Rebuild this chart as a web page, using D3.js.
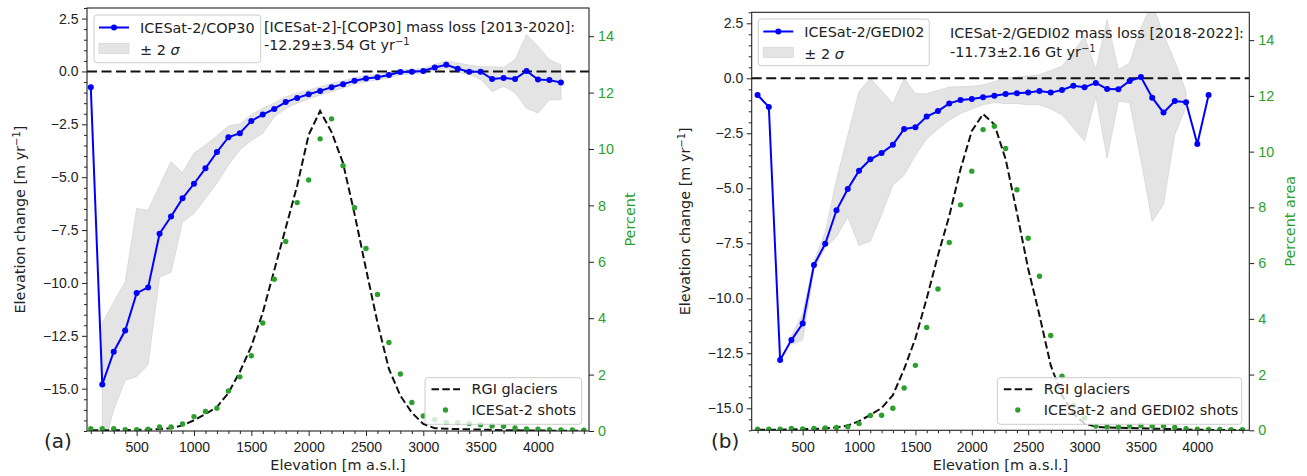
<!DOCTYPE html>
<html>
<head>
<meta charset="utf-8">
<title>ICESat-2 elevation change</title>
<script src="https://cdn.jsdelivr.net/npm/d3@7"></script>
<style>
  body { margin: 0; background: #fff; }
  svg { display: block; font-family: "DejaVu Sans", sans-serif; }
  .tick text { font-size: 14px; fill: #222; }
  .tick line { stroke: #222; }
</style>
</head>
<body>
<svg id="chart" width="1307" height="476"></svg>
<script>
// elevation bins (m a.s.l.)
var elevBins = [100, 200, 300, 400, 500, 600, 700, 800, 900, 1000, 1100, 1200, 1300, 1400, 1500,
  1600, 1700, 1800, 1900, 2000, 2100, 2200, 2300, 2400, 2500, 2600, 2700, 2800, 2900, 3000,
  3100, 3200, 3300, 3400, 3500, 3600, 3700, 3800, 3900, 4000, 4100, 4200, 4300, 4400];

// tick labels
var xTicks = [500, 1000, 1500, 2000, 2500, 3000, 3500, 4000];
var yTicks = [2.5, 0, -2.5, -5, -7.5, -10, -12.5, -15];
var pctTicks = [0, 2, 4, 6, 8, 10, 12, 14];

// (a) ICESat-2 / COP30, bins 100..4200
var dhA = [-0.75, -14.8, -13.25, -12.25, -10.48, -10.21, -7.67, -6.86, -6.0, -5.31,
  -4.58, -3.81, -3.11, -2.92, -2.34, -2.04, -1.77, -1.45, -1.25, -1.08,
  -0.92, -0.75, -0.6, -0.44, -0.33, -0.27, -0.17, -0.03, -0.01, 0.02,
  0.19, 0.32, 0.13, -0.01, -0.01, -0.36, -0.31, -0.36, 0.02, -0.38, -0.41, -0.52];
// +-2 sigma band, bins 200..4200
var bandElevA = [200, 300, 400, 500, 600, 700, 800, 900, 1000, 1100, 1200, 1300, 1400, 1500,
  1600, 1700, 1800, 1900, 2000, 2100, 2200, 2300, 2400, 2500, 2600, 2700, 2800, 2900, 3000,
  3100, 3200, 3300, 3400, 3500, 3600, 3700, 3800, 3900, 4000, 4100, 4200];
var bandHiA = [-11.9, -10.9, -9.96, -6.48, -6.56, -5.4, -4.27, -4.79, -3.87,
  -3.48, -3.05, -2.58, -2.48, -2.05, -1.74, -1.5, -1.2, -1.02, -0.88,
  -0.72, -0.57, -0.44, -0.3, -0.2, -0.13, -0.04, 0.08, 0.1, 0.13,
  0.33, 0.5, 0.4, 0.3, 0.22, 0.22, 0.2, 0.55, 1.74, 1.19, 0.55, 0.32];
var bandLoA = [-18, -16.0, -14.6, -14.43, -13.85, -9.72, -9.49, -7.12, -6.72,
  -6.0, -5.29, -4.43, -3.71, -3.27, -2.92, -2.15, -1.75, -1.5, -1.3,
  -1.12, -0.95, -0.78, -0.6, -0.47, -0.4, -0.3, -0.15, -0.12, -0.1,
  0.05, 0.15, -0.05, -0.12, -0.37, -0.95, -0.7, -1.0, -1.74, -1.97, -1.34, -1.34];
// percent per bin, bins 100..4400
var rgiA = [0.03, 0.03, 0.03, 0.03, 0.04, 0.05, 0.07, 0.1, 0.2, 0.38,
  0.6, 0.85, 1.35, 2.1, 3.0, 4.2, 5.7, 7.2, 8.7, 10.5,
  11.35, 10.6, 9.5, 7.7, 5.75, 3.85, 2.2, 1.25, 0.65, 0.25,
  0.1, 0.08, 0.07, 0.06, 0.05, 0.04, 0.03, 0.03, 0.02, 0.02, 0.01, 0.01, 0.01, 0.01];
var shotsA = [0.08, 0.08, 0.08, 0.05, 0.05, 0.06, 0.14, 0.14, 0.25, 0.51,
  0.69, 0.81, 1.42, 1.92, 2.67, 3.83, 5.38, 6.72, 8.1, 8.9,
  10.36, 11.07, 9.41, 7.92, 6.47, 4.84, 3.14, 2.02, 1.01, 0.53,
  0.4, 0.3, 0.3, 0.27, 0.22, 0.18, 0.17, 0.11, 0.07, 0.06, 0.05, 0.04, 0.04, 0.03];

// (b) ICESat-2 / GEDI02, bins 100..4100
var dhB = [-0.76, -1.3, -12.8, -11.9, -11.15, -8.49, -7.52, -6.0, -5.03, -4.2,
  -3.68, -3.4, -3.02, -2.3, -2.23, -1.74, -1.49, -1.14, -0.99, -0.94,
  -0.86, -0.79, -0.71, -0.68, -0.65, -0.58, -0.65, -0.53, -0.34, -0.41,
  -0.21, -0.49, -0.5, -0.12, 0.06, -0.88, -1.56, -1.03, -1.09, -2.99, -0.76];
// +-2 sigma band, bins 400..3900
var bandElevB = [400, 500, 600, 700, 800, 900, 1000, 1100, 1200, 1300, 1400, 1500,
  1600, 1700, 1800, 1900, 2000, 2100, 2200, 2300, 2400, 2500, 2600, 2700, 2800, 2900, 3000,
  3100, 3200, 3300, 3400, 3500, 3600, 3700, 3800, 3900];
var bandHiB = [-11.7, -10.7, -8.3, -7.0, -4.6, -2.6, -0.6,
  0.0, -0.57, -1.15, 0.0, -0.7, -0.7, -0.55, -0.4, -0.38, -0.36,
  -0.3, -0.15, 0.0, 0.05, 0.1, 0.16, 0.35, 0.55, 1.2, 1.9,
  0.39, 2.66, 0.39, 0.7, 2.3, 3.4, 1.98, 0.77, -0.6];
var bandLoB = [-12.1, -11.9, -8.7, -7.7, -7.2, -6.3, -7.6,
  -7.4, -6.2, -4.85, -4.4, -3.5, -2.75, -2.3, -1.9, -1.6, -1.4,
  -1.2, -1.1, -1.15, -1.15, -1.2, -1.2, -1.4, -1.65, -2.25, -2.86,
  -0.82, -3.62, -1.05, -1.1, -3.7, -6.5, -5.74, -2.56, -1.3];
var rgiB = [0.02, 0.02, 0.02, 0.03, 0.04, 0.05, 0.07, 0.1, 0.17, 0.33,
  0.55, 0.8, 1.26, 2.2, 3.3, 4.73, 6.28, 7.69, 9.37, 10.74,
  11.35, 10.98, 9.73, 7.81, 5.8, 4.13, 2.33, 1.26, 0.6, 0.24,
  0.13, 0.1, 0.09, 0.08, 0.07, 0.06, 0.05, 0.04, 0.03, 0.02, 0.02, 0.01, 0.01, 0.01];
var shotsB = [0.04, 0.04, 0.04, 0.07, 0.05, 0.07, 0.08, 0.1, 0.13, 0.24,
  0.53, 0.54, 0.79, 1.52, 2.33, 3.69, 5.07, 6.74, 8.09, 9.3,
  10.79, 10.91, 10.11, 8.63, 6.89, 5.53, 3.4, 1.94, 0.9, 0.44,
  0.15, 0.13, 0.12, 0.15, 0.17, 0.15, 0.15, 0.1, 0.06, 0.04, 0.03, 0.03, 0.02, 0.02];

var blue = "#0000ff", green = "#2ca02c", ink = "#222";
var fs = "14.4px";
var svg = d3.select("#chart");

var panels = [
  { id: "a", left: 87, right: 589, top: 8, bottom: 431, xDomain: [67, 4445], yDomain: [-17, 3],
    dh: dhA, bandElev: bandElevA, bandHi: bandHiA, bandLo: bandLoA, rgi: rgiA, shots: shotsA,
    name: "ICESat-2/COP30", annot: "[ICESat-2]-[COP30] mass loss [2013-2020]:", annot2: "-12.29\u00b13.54 Gt yr",
    shotsName: "ICESat-2 shots", y2Label: "Percent", tag: "(a)",
    legTop: { x: 94, y: 15, w: 166.7, h: 47.7 }, legBot: { x: 425, y: 377.7, w: 156.7, h: 46.6 },
    annotX: 264, annotY: [32, 50], ylabX: 25, y2labX: 635, tagX: 44 },
  { id: "b", left: 751.7, right: 1249.3, top: 12.3, bottom: 430.3, xDomain: [48, 4461], yDomain: [-16, 3],
    dh: dhB, bandElev: bandElevB, bandHi: bandHiB, bandLo: bandLoB, rgi: rgiB, shots: shotsB,
    name: "ICESat-2/GEDI02", annot: "ICESat-2/GEDI02 mass loss [2018-2022]:", annot2: "-11.73\u00b12.16 Gt yr",
    shotsName: "ICESat-2 and GEDI02 shots", y2Label: "Percent area", tag: "(b)",
    legTop: { x: 758.3, y: 19, w: 171, h: 46.7 }, legBot: { x: 997.3, y: 377.7, w: 244.4, h: 46.6 },
    annotX: 950, annotY: [37.5, 56.5], ylabX: 690, y2labX: 1295, tagX: 711 }
];

function drawPanel(p) {
  var x = d3.scaleLinear().domain(p.xDomain).range([p.left, p.right]);
  var y = d3.scaleLinear().domain(p.yDomain).range([p.bottom, p.top]);
  var y2 = d3.scaleLinear().domain([0, 15]).range([p.bottom, p.top]);
  var g = svg.append("g");

  g.append("clipPath").attr("id", "clip-" + p.id)
    .append("rect").attr("x", p.left).attr("y", p.top)
    .attr("width", p.right - p.left).attr("height", p.bottom - p.top);
  var plot = g.append("g").attr("clip-path", "url(#clip-" + p.id + ")");

  // +-2 sigma band
  var band = p.bandElev.map(function(e, i) { return { e: e, hi: p.bandHi[i], lo: p.bandLo[i] }; });
  plot.append("path").datum(band)
    .attr("d", d3.area().x(function(d) { return x(d.e); })
      .y0(function(d) { return y(d.lo); }).y1(function(d) { return y(d.hi); }))
    .attr("fill", "#e4e4e4").attr("stroke", "#d6d6d6").attr("stroke-width", 0.8);

  // zero line
  plot.append("line").attr("x1", p.left).attr("x2", p.right)
    .attr("y1", y(0)).attr("y2", y(0))
    .attr("stroke", "#111").attr("stroke-width", 2).attr("stroke-dasharray", "10,4.5");

  // elevation change
  var dh = p.dh.map(function(v, i) { return { e: elevBins[i], v: v }; });
  plot.append("path").datum(dh)
    .attr("d", d3.line().x(function(d) { return x(d.e); }).y(function(d) { return y(d.v); }))
    .attr("fill", "none").attr("stroke", blue).attr("stroke-width", 2);
  plot.selectAll(".dh").data(dh).enter().append("circle")
    .attr("cx", function(d) { return x(d.e); }).attr("cy", function(d) { return y(d.v); })
    .attr("r", 3).attr("fill", blue);

  // twin axis: hypsometry and shots
  var rgi = p.rgi.map(function(v, i) { return { e: elevBins[i], v: v }; });
  plot.append("path").datum(rgi)
    .attr("d", d3.line().x(function(d) { return x(d.e); }).y(function(d) { return y2(d.v); }))
    .attr("fill", "none").attr("stroke", "#111").attr("stroke-width", 2).attr("stroke-dasharray", "7.5,3.3");
  plot.selectAll(".shot").data(p.shots).enter().append("circle")
    .attr("cx", function(d, i) { return x(elevBins[i]); }).attr("cy", function(d) { return y2(d); })
    .attr("r", 2.7).attr("fill", green);

  // axes
  var gx = g.append("g").attr("transform", "translate(0," + p.bottom + ")")
    .call(d3.axisBottom(x).tickValues(xTicks).tickSize(5).tickPadding(6.5).tickFormat(d3.format("d")));
  gx.select(".domain").remove();
  var gxm = g.append("g").attr("transform", "translate(0," + p.bottom + ")")
    .call(d3.axisBottom(x).tickValues(elevBins.filter(function(e) { return e % 500 !== 0; }))
      .tickSize(3).tickFormat(""));
  gxm.select(".domain").remove();

  var gy = g.append("g").attr("transform", "translate(" + p.left + ",0)")
    .call(d3.axisLeft(y).tickValues(yTicks).tickSize(5).tickPadding(3.5).tickFormat(d3.format(".1f")));
  gy.select(".domain").remove();
  var minorY = d3.range(p.yDomain[0], p.yDomain[1] + 0.01, 0.5).filter(function(v) { return yTicks.indexOf(v) < 0; });
  var gym = g.append("g").attr("transform", "translate(" + p.left + ",0)")
    .call(d3.axisLeft(y).tickValues(minorY).tickSize(3).tickFormat(""));
  gym.select(".domain").remove();

  var gy2 = g.append("g").attr("transform", "translate(" + p.right + ",0)")
    .call(d3.axisRight(y2).tickValues(pctTicks).tickSize(5).tickPadding(4).tickFormat(d3.format("d")));
  gy2.select(".domain").remove();
  gy2.selectAll(".tick text").style("fill", green).style("font-size", fs);

  // frame
  g.append("rect").attr("x", p.left).attr("y", p.top)
    .attr("width", p.right - p.left).attr("height", p.bottom - p.top)
    .attr("fill", "none").attr("stroke", ink).attr("stroke-width", 1.1);

  // axis labels
  g.append("text").attr("x", (p.left + p.right) / 2).attr("y", 470)
    .attr("text-anchor", "middle").style("font-size", fs).attr("fill", ink)
    .text("Elevation [m a.s.l.]");
  var yl = g.append("text")
    .attr("transform", "translate(" + p.ylabX + "," + (p.top + p.bottom) / 2 + ") rotate(-90)")
    .attr("text-anchor", "middle").style("font-size", fs).attr("fill", ink);
  yl.append("tspan").text("Elevation change [m yr");
  yl.append("tspan").attr("dy", -5).style("font-size", "10px").text("\u22121");
  yl.append("tspan").attr("dy", 5).text("]");
  g.append("text")
    .attr("transform", "translate(" + p.y2labX + "," + (p.top + p.bottom) / 2 + ") rotate(-90)")
    .attr("text-anchor", "middle").style("font-size", fs).attr("fill", green)
    .text(p.y2Label);

  g.append("text").attr("x", p.tagX).attr("y", 448).style("font-size", "20px").attr("fill", ink).text(p.tag);

  // annotation
  g.append("text").attr("x", p.annotX).attr("y", p.annotY[0]).style("font-size", fs).attr("fill", ink).text(p.annot);
  var an = g.append("text").attr("x", p.annotX).attr("y", p.annotY[1]).style("font-size", fs).attr("fill", ink);
  an.append("tspan").text(p.annot2);
  an.append("tspan").attr("dy", -5).style("font-size", "10px").text("\u22121");

  // upper legend
  var lt = p.legTop;
  var L = g.append("g");
  L.append("rect").attr("x", lt.x).attr("y", lt.y).attr("width", lt.w).attr("height", lt.h)
    .attr("rx", 3).attr("fill", "#fff").attr("fill-opacity", 0.8).attr("stroke", "#ccc");
  L.append("line").attr("x1", lt.x + 5).attr("x2", lt.x + 35).attr("y1", lt.y + 12.5).attr("y2", lt.y + 12.5)
    .attr("stroke", blue).attr("stroke-width", 2);
  L.append("circle").attr("cx", lt.x + 20).attr("cy", lt.y + 12.5).attr("r", 3).attr("fill", blue);
  L.append("text").attr("x", lt.x + 46).attr("y", lt.y + 18).style("font-size", fs).attr("fill", ink).text(p.name);
  L.append("rect").attr("x", lt.x + 5).attr("y", lt.y + 28.5).attr("width", 30).attr("height", 10)
    .attr("fill", "#e4e4e4").attr("stroke", "#d6d6d6").attr("stroke-width", 0.8);
  var s = L.append("text").attr("x", lt.x + 46).attr("y", lt.y + 39.5).style("font-size", fs).attr("fill", ink);
  s.append("tspan").text("\u00b1 2 ");
  s.append("tspan").style("font-style", "italic").text("\u03c3");

  // lower legend
  var lb = p.legBot;
  var B = g.append("g");
  B.append("rect").attr("x", lb.x).attr("y", lb.y).attr("width", lb.w).attr("height", lb.h)
    .attr("rx", 3).attr("fill", "#fff").attr("fill-opacity", 0.8).attr("stroke", "#ccc");
  B.append("line").attr("x1", lb.x + 6.5).attr("x2", lb.x + 35).attr("y1", lb.y + 11.6).attr("y2", lb.y + 11.6)
    .attr("stroke", "#111").attr("stroke-width", 2).attr("stroke-dasharray", "7.5,3.3");
  B.append("text").attr("x", lb.x + 46.5).attr("y", lb.y + 16.5).style("font-size", fs).attr("fill", ink).text("RGI glaciers");
  B.append("circle").attr("cx", lb.x + 20.5).attr("cy", lb.y + 32.3).attr("r", 2.7).attr("fill", green);
  B.append("text").attr("x", lb.x + 46.5).attr("y", lb.y + 37.5).style("font-size", fs).attr("fill", ink).text(p.shotsName);
}

panels.forEach(drawPanel);
</script>
</body>
</html>
